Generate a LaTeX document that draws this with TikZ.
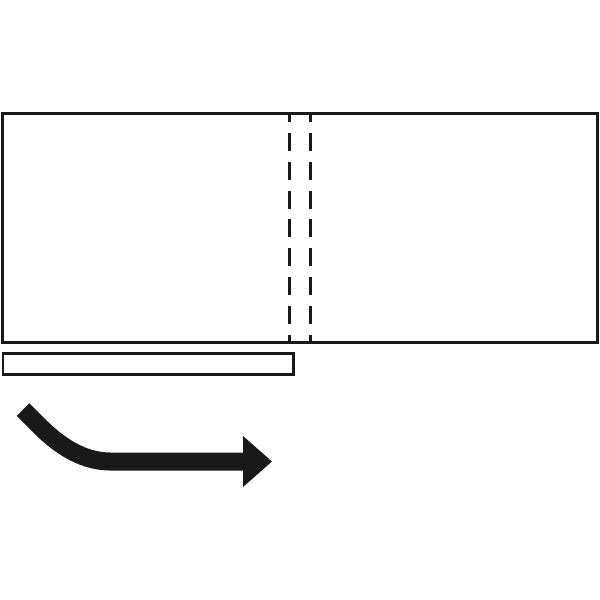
\documentclass[tikz,border=0pt]{standalone}
\begin{document}
\begin{tikzpicture}[x=1pt,y=-1pt,
  outline/.style={draw=black!90,line width=2.8pt},
  fold/.style={draw=black!90,line width=2.4pt,dash pattern=on 18pt off 10.8pt,dash phase=9.6pt},
  bigarrow/.style={draw=black!90,line width=18pt,line cap=butt}]
\useasboundingbox (0,0) rectangle (600,600);
% main sheet
\draw[outline] (2.2,113.8) rectangle (597.3,342.8);
% fold lines
\coordinate (f1t) at (289.3,113.8); \coordinate (f1b) at (289.3,342.8);
\coordinate (f2t) at (310.3,113.8); \coordinate (f2b) at (310.3,342.8);
\draw[fold] (f1t) -- (f1b);
\draw[fold] (f2t) -- (f2b);
% strip
\draw[outline,line width=2.5pt] (2.8,353.3) rectangle (293.7,374.7);
% arrow
\coordinate (a0) at (23,409.5);
\coordinate (a1) at (40,426.5);
\coordinate (a2) at (110,461.5);
\coordinate (a3) at (243.5,461.5);
\draw[bigarrow] (a0) -- (a1) .. controls (63.3,449.8) and (86.7,461.5) .. (a2) -- (a3);
\fill[black!90] (243,436) -- (272,461.5) -- (243,487) -- cycle;
\end{tikzpicture}
\end{document}
